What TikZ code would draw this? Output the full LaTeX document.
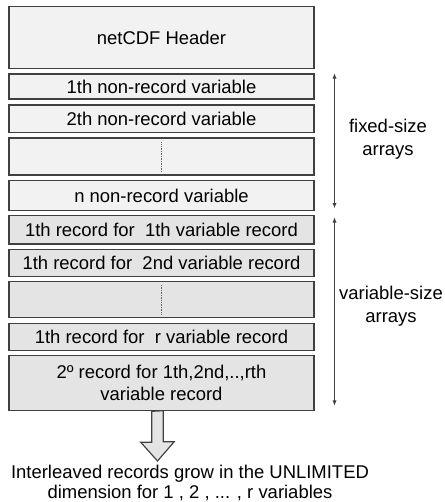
\documentclass[tikz,border=0pt]{standalone}
\usepackage{fontspec}
\setmainfont{Liberation Sans}
\usetikzlibrary{arrows.meta,calc}
\definecolor{boxline}{RGB}{64,64,64}
\definecolor{fixfill}{RGB}{242,242,242}
\definecolor{recfill}{RGB}{228,228,228}
\tikzset{
  fixbox/.style  ={draw=boxline, fill=fixfill, line width=1.2pt, minimum width=10.167cm,
                   inner sep=0pt, align=center, font=\fontsize{17.5}{21}\selectfont},
  recbox/.style  ={fixbox, fill=recfill},
  lab/.style     ={font=\fontsize{17.5}{21}\selectfont, align=center, inner sep=0pt},
  sizearr/.style ={draw=boxline, line width=0.9pt, {Latex[length=5pt,width=4pt]}-{Latex[length=5pt,width=4pt]}},
  elide/.style   ={draw=boxline!80, line width=0.6pt, densely dotted},
  blockarr/.style={draw=boxline, fill=recfill, line width=1.1pt, line join=miter},
}
\begin{document}
\begin{tikzpicture}
  \useasboundingbox (0,0) rectangle (14.8,16.733);
  % file layout, top to bottom
  \node[fixbox,minimum height=2.053cm] (hdr) at (5.383,15.483) {netCDF Header};
  \node[fixbox,minimum height=0.833cm] (nrfirst) at (5.383,13.85) {1th non-record variable};
  \node[fixbox,minimum height=0.923cm] (nrsecond) at (5.383,12.772) {2th non-record variable};
  \node[fixbox,minimum height=1.233cm] (nrdots) at (5.383,11.517) {};
  \node[fixbox,minimum height=1.0cm] (nrlast) at (5.383,10.21) {n non-record variable};
  \node[recbox,minimum height=0.943cm] (recfirst) at (5.383,9.072) {1th record for~ 1th variable record};
  \node[recbox,minimum height=0.913cm] (recsecond) at (5.383,7.967) {1th record for~ 2nd variable record};
  \node[recbox,minimum height=1.187cm] (recdots) at (5.383,6.75) {};
  \node[recbox,minimum height=0.913cm] (reclast) at (5.383,5.5) {1th record for~ r variable record};
  \node[recbox,minimum height=1.847cm] (recall) at (5.383,3.967) {2º record for 1th,2nd,..,rth\\variable record};
  \draw[elide] ([yshift=-0.17cm]nrdots.north) -- ([yshift=0.1cm]nrdots.south);
  \draw[elide] ([yshift=-0.13cm]recdots.north) -- ([yshift=0.1cm]recdots.south);

  % size brackets on the right
  \coordinate (fixtop) at (11.15,14.29);
  \coordinate (fixbot) at (11.15,9.79);
  \coordinate (vartop) at (11.15,9.49);
  \coordinate (varbot) at (11.15,3.21);
  \draw[sizearr] (fixtop) -- (fixbot);
  \draw[sizearr] (vartop) -- (varbot);
  \node[lab] (fixlab) at (12.933,12.093) {fixed-size\\arrays};
  \node[lab] (varlab) at (13.033,6.527) {variable-size\\arrays};

  % growth of the record section
  \node[lab,font=\fontsize{17.5}{19.5}\selectfont] (grow) at (6.333,0.627)
    {Interleaved records grow in the UNLIMITED\\dimension for 1 , 2 , ... , r variables};
  \coordinate (growtip) at (5.25,1.367);
  \draw[blockarr] ($(recall.south)+(-0.326,0)$) -- ++(0,-1.033) -- ++(-0.364,0) -- (growtip)
    -- ++(0.557,0.643) -- ++(-0.364,0) -- ++(0,1.033) -- cycle;
\end{tikzpicture}
\end{document}
